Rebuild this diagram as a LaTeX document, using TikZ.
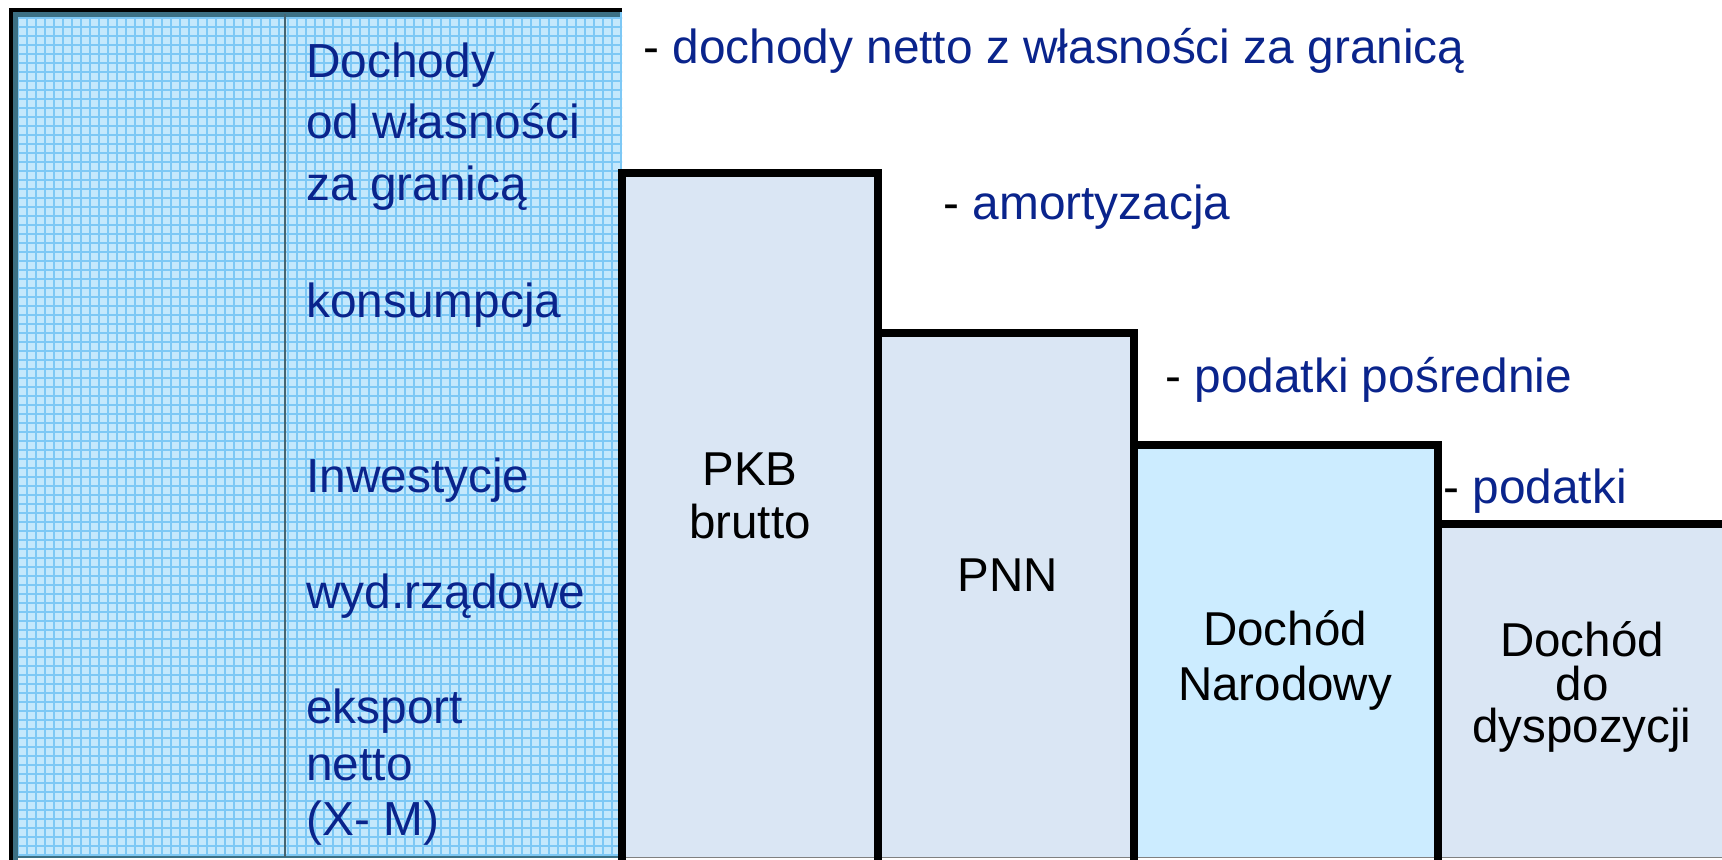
\documentclass[tikz,border=0pt]{standalone}
\usepackage{fontspec}
\setmainfont{Liberation Sans}
\definecolor{txtblue}{RGB}{10,36,140}
\definecolor{gridfill}{RGB}{196,232,252}
\definecolor{gridline}{RGB}{125,200,245}
\definecolor{tealband}{RGB}{60,112,132}
\definecolor{texfill}{RGB}{218,230,244}
\definecolor{dnfill}{RGB}{204,236,255}
\definecolor{divider}{RGB}{70,100,112}
\tikzset{
  lbl/.style={text=txtblue, font=\fontsize{23.9}{28}\selectfont, inner sep=0pt, anchor=base west},
  blk/.style={text=black, font=\fontsize{23.75}{28}\selectfont, inner sep=0pt, anchor=base},
  barbox/.style={draw=black, line width=4pt, line join=miter},
  gridln/.style={draw=gridline, line width=0.55pt},
}
\begin{document}
\begin{tikzpicture}[x=0.5pt,y=-0.5pt]
\useasboundingbox (0,0) rectangle (1722,859);
\clip (0,0) rectangle (1722,859);
% left grid box
\fill[gridfill] (11,10) rectangle (622,857);
\begin{scope}
  \clip (11,10) rectangle (622,857);
  \foreach \i in {0,...,68} \draw[gridln] ({18+9*\i},10) -- ({18+9*\i},860);
  \foreach \j in {0,...,95} \draw[gridln] (10,{18+9*\j}) -- (625,{18+9*\j});
\end{scope}
\draw[tealband, line width=2.5pt] (15.5,870) -- (15.5,14.5) -- (620,14.5);
\draw[tealband, line width=1pt] (15,856.5) -- (620,856.5);
\draw[black, line width=2pt] (11,870) -- (11,10) -- (622,10);
\draw[divider, line width=1pt] (285,14) -- (285,857);
% bars
\fill[texfill] (621.5,172.5) rectangle (877.5,857);
\fill[texfill] (877.5,333) rectangle (1134,857);
\fill[dnfill] (1134,445) rectangle (1438,857);
\fill[texfill] (1438,524) rectangle (1730,857);
\draw[gray, line width=0.6pt] (621.5,857.5) -- (1722,857.5);
\draw[barbox] (621.5,870) -- (621.5,172.5) -- (877.5,172.5) -- (877.5,870);
\draw[barbox] (877.5,333) -- (1134,333) -- (1134,870);
\draw[barbox] (1134,445) -- (1438,445) -- (1438,870);
\draw[barbox] (1438,524) -- (1740,524);
% left column labels
\node[lbl] (l1) at (306,77) {Dochody};
\node[lbl] (l2) at (306,138) {od własności};
\node[lbl] (l3) at (306,200) {za granicą};
\node[lbl] (l4) at (306,317) {konsumpcja};
\node[lbl] (l5) at (306,492) {Inwestycje};
\node[lbl] (l6) at (306,608) {wyd.rządowe};
\node[lbl] (l7) at (306,723) {eksport};
\node[lbl] (l8) at (306,780) {netto};
\node[lbl] (l9) at (306,835) {(X- M)};
% step labels
\node[lbl] (s1) at (643,63) {{\color{black}-} dochody netto z własności za granicą};
\node[lbl] (s2) at (943,219) {{\color{black}-} amortyzacja};
\node[lbl] (s3) at (1165,392) {{\color{black}-} podatki pośrednie};
\node[lbl] (s4) at (1443,503) {{\color{black}-} podatki};
% bar labels
\node[blk] (pkb1) at (750,485) {PKB};
\node[blk] (pkb2) at (750,538) {brutto};
\node[blk] (pnn) at (1008,591) {PNN};
\node[blk] (dn1) at (1285,645) {Dochód};
\node[blk] (dn2) at (1285,700) {Narodowy};
\node[blk] (dd1) at (1582,656) {Dochód};
\node[blk] (dd2) at (1582,700) {do};
\node[blk] (dd3) at (1582,742) {dyspozycji};
\end{tikzpicture}
\end{document}
